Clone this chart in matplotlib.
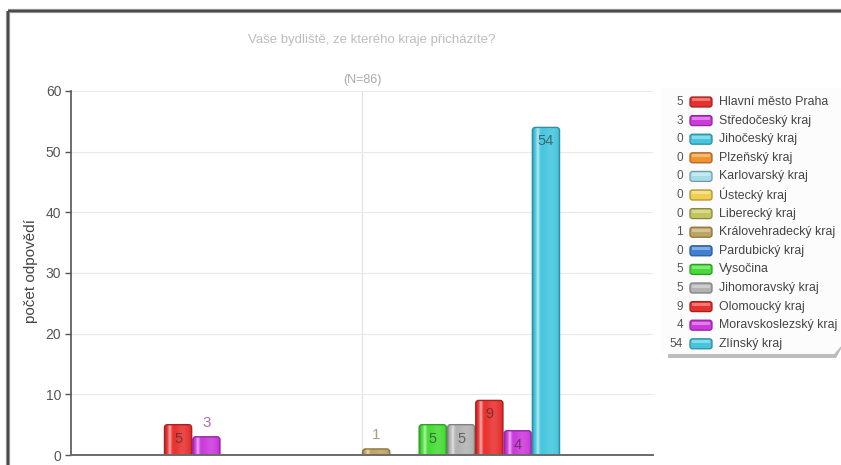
import numpy as np
import matplotlib
matplotlib.use("Agg")
import matplotlib.pyplot as plt
from matplotlib.patches import FancyBboxPatch, Rectangle, Polygon
from matplotlib.lines import Line2D
from matplotlib.colors import to_rgb

plt.rcParams['font.family'] = ['Liberation Sans', 'DejaVu Sans']

# ---- data -------------------------------------------------------------
title = "Vaše bydliště, ze kterého kraje přicházíte?"
subtitle = "(N=86)"
ylabel = "počet odpovědí"
regions = [
    "Hlavní město Praha", "Středočeský kraj", "Jihočeský kraj", "Plzeňský kraj",
    "Karlovarský kraj", "Ústecký kraj", "Liberecký kraj", "Královehradecký kraj",
    "Pardubický kraj", "Vysočina", "Jihomoravský kraj", "Olomoucký kraj",
    "Moravskoslezský kraj", "Zlínský kraj",
]
counts = [5, 3, 0, 0, 0, 0, 0, 1, 0, 5, 5, 9, 4, 54]
colors = [
    "#e8302e", "#cc38dc", "#45c6de", "#f0922e", "#a6dde9", "#f0cf4e", "#c3c45c",
    "#bfa45e", "#3f80d2", "#45dc35", "#b2b2b2", "#e8302e", "#cc38dc", "#45c6de",
]
yticks = [0, 10, 20, 30, 40, 50, 60]

# ---- layout helpers (pixel based) ------------------------------------
W, H, DPI = 841, 465, 100
fig = plt.figure(figsize=(W / DPI, H / DPI), dpi=DPI, facecolor="white")


def fx(px):
    return px / W


def fy(py):
    return 1 - py / H


ax_l, ax_t, ax_r, ax_b = 71, 91, 653, 455
ax = fig.add_axes([fx(ax_l), fy(ax_b), (ax_r - ax_l) / W, (ax_b - ax_t) / H])
ax.set_facecolor("none")


def lighten(c, a):
    c = np.array(to_rgb(c))
    return tuple(c + (1 - c) * a)


def darken(c, a):
    c = np.array(to_rgb(c))
    return tuple(c * (1 - a))


# ---- axes ------------------------------------------------------------
n = len(counts)
xpos = np.arange(n)
center = (n - 1) / 2
slot_px = 28.3
half = (ax_r - ax_l) / slot_px / 2
ax.set_xlim(center - half, center + half)
ax.set_ylim(0, 60)
ax.set_yticks(yticks)
ax.set_xticks([])
ax.tick_params(axis="y", direction="out", length=4, width=1, color="#555555",
               labelsize=10, labelcolor="#555555", pad=3)
for s in ["top", "right"]:
    ax.spines[s].set_visible(False)
ax.spines["left"].set_color("#555555")
ax.spines["left"].set_linewidth(1.2)
ax.spines["bottom"].set_color("#6a6a6a")
ax.spines["bottom"].set_linewidth(1.4)
ax.spines["bottom"].set_zorder(5)
ax.yaxis.grid(True, color="#e9e9e9", linewidth=0.8)
ax.set_axisbelow(True)
ax.axvline(center, color="#e3e3e3", linewidth=0.9, zorder=0)

# ---- bars ------------------------------------------------------------
bars = ax.bar(xpos, counts, width=1.0, color=colors)

px_x = (ax_r - ax_l) / (2 * half)   # pixels per x unit
px_y = (ax_b - ax_t) / 60           # pixels per y unit
r_px = 3.0
r_x = r_px / px_x
aspect = px_x / px_y

t = np.linspace(0, 1, 80)
profile = (0.55 * np.exp(-((t - 0.2) / 0.06) ** 2)
           + 0.12 * np.exp(-((t - 0.65) / 0.2) ** 2)
           - 0.30 * np.exp(-(t / 0.05) ** 2)
           - 0.22 * np.exp(-((1 - t) / 0.07) ** 2))


def gradient_image(c):
    base = np.array(to_rgb(c))
    img = np.empty((1, t.size, 3))
    for i, f in enumerate(profile):
        if f >= 0:
            img[0, i] = base + (1 - base) * f
        else:
            img[0, i] = base * (1 + f)
    return np.clip(img, 0, 1)


for bar, c, v in zip(bars, colors, counts):
    bar.set_visible(False)
    if v <= 0:
        continue
    x0, w, h = bar.get_x(), bar.get_width(), bar.get_height()
    lo = -r_px / px_y * 1.5
    shape = FancyBboxPatch((x0 + 0.02, lo), w - 0.04, h - lo,
                           boxstyle=f"round,pad=0,rounding_size={r_x}",
                           mutation_aspect=aspect, transform=ax.transData,
                           facecolor="none", edgecolor=darken(c, 0.28),
                           linewidth=1.0, zorder=3)
    ax.add_patch(shape)
    im = ax.imshow(gradient_image(c), extent=(x0, x0 + w, lo, h),
                   aspect="auto", zorder=2, interpolation="bilinear")
    im.set_clip_path(shape)

ax.set_xlim(center - half, center + half)
ax.set_ylim(0, 60)

# value labels
for bar, c, v in zip(bars, colors, counts):
    if v <= 0:
        continue
    xc = bar.get_x() + bar.get_width() / 2
    if v >= 4:
        ax.annotate(str(v), (xc, v), xytext=(0, -10), textcoords="offset points",
                    ha="center", va="center", fontsize=10.5, color="#2a2a2a",
                    alpha=0.6, zorder=6)
    else:
        lab = lighten(np.array(to_rgb(c)) * 0.55 + np.array([0.5, 0.5, 0.5]) * 0.45, 0.1)
        ax.annotate(str(v), (xc, v), xytext=(0, 10), textcoords="offset points",
                    ha="center", va="center", fontsize=11, color=lab, zorder=6)

# ---- texts -----------------------------------------------------------
fig.text(fx(372), fy(40), title, ha="center", va="center", fontsize=9.5,
         color="#bdbdbd")
fig.text(fx(362), fy(80), subtitle, ha="center", va="center", fontsize=9,
         color="#aaaaaa")
fig.text(fx(31), fy(271), ylabel, ha="center", va="center", rotation=90,
         fontsize=11, color="#444444")

# ---- legend ----------------------------------------------------------
lg_l, lg_t, lg_r, lg_b = 662, 88, 841, 354
# bottom shadow with a bevelled right corner
fig.add_artist(Polygon([(fx(668), fy(lg_b)), (fx(834), fy(lg_b)), (fx(841), fy(346)),
                        (fx(841), fy(349)), (fx(836), fy(lg_b + 4)), (fx(668), fy(lg_b + 4))],
                       closed=True, transform=fig.transFigure,
                       facecolor="#bdbdbd", edgecolor="none", zorder=1))
fig.add_artist(Polygon([(fx(lg_l), fy(lg_t)), (fx(lg_r), fy(lg_t)), (fx(lg_r), fy(346)),
                        (fx(834), fy(lg_b)), (fx(lg_l), fy(lg_b))],
                       closed=True, transform=fig.transFigure,
                       facecolor="#fcfcfc", edgecolor="none", zorder=2))
row0, row_h = 102, 18.6
sw_l, sw_r, sw_h = 690, 712, 10
for i, (name, v, c) in enumerate(zip(regions, counts, colors)):
    yc = row0 + i * row_h
    fig.text(fx(683), fy(yc), str(v), ha="right", va="center", fontsize=8.5,
             color="#555555", zorder=4)
    sw = FancyBboxPatch((fx(sw_l), fy(yc + sw_h / 2)), (sw_r - sw_l) / W,
                        sw_h / H, boxstyle="round,pad=0,rounding_size=0.003",
                        mutation_aspect=W / H, transform=fig.transFigure,
                        facecolor=c, edgecolor=darken(c, 0.3), linewidth=0.9,
                        zorder=3)
    fig.add_artist(sw)
    fig.add_artist(Rectangle((fx(sw_l + 2), fy(yc - 0.5)), (sw_r - sw_l - 4) / W,
                             3 / H, transform=fig.transFigure,
                             facecolor=lighten(c, 0.35), edgecolor="none",
                             zorder=4))
    fig.text(fx(719), fy(yc), name, ha="left", va="center", fontsize=8.9,
             color="#444444", zorder=4)

# ---- outer frame -----------------------------------------------------
for lw, col in [(4.2, "#9a9a9a"), (2.2, "#4a4a4a")]:
    fig.add_artist(Line2D([fx(8), fx(8)], [fy(11), fy(470)], transform=fig.transFigure,
                          color=col, linewidth=lw * 72 / DPI, solid_capstyle="butt"))
    fig.add_artist(Line2D([fx(8), fx(845)], [fy(11), fy(11)], transform=fig.transFigure,
                          color=col, linewidth=lw * 72 / DPI, solid_capstyle="butt"))

fig.savefig("out.png", dpi=DPI, facecolor="white")
